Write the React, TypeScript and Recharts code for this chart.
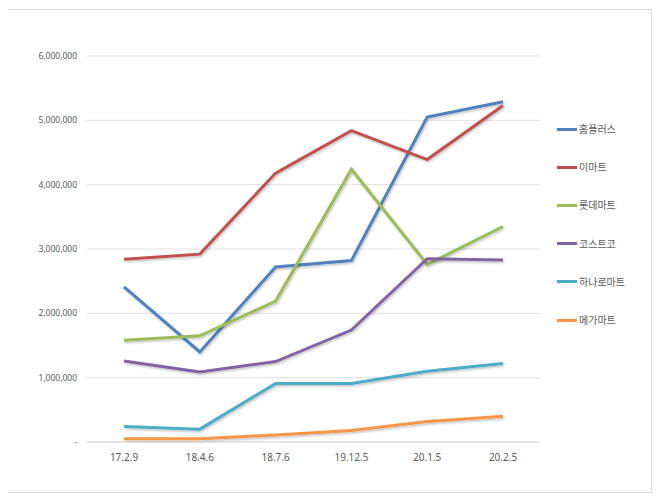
import React from 'react';
import { LineChart, Line, XAxis, YAxis, CartesianGrid } from 'recharts';

const categories = ['17.2.9', '18.4.6', '18.7.6', '19.12.5', '20.1.5', '20.2.5'];
const seriesNames = ['홈플러스', '이마트', '롯데마트', '코스트코', '하나로마트', '메가마트'];
const homeplus = [2410000, 1400000, 2720000, 2820000, 5050000, 5290000];
const emart = [2840000, 2920000, 4180000, 4840000, 4390000, 5230000];
const lotte = [1580000, 1650000, 2190000, 4240000, 2760000, 3350000];
const costco = [1260000, 1090000, 1250000, 1740000, 2850000, 2830000];
const hanaro = [240000, 200000, 910000, 910000, 1100000, 1220000];
const mega = [50000, 50000, 110000, 180000, 320000, 400000];
const yTicks = [0, 1000000, 2000000, 3000000, 4000000, 5000000, 6000000];
const colors = ['#4F81BD', '#C0504D', '#9BBB59', '#8064A2', '#4BACC6', '#F79646'];

const seriesValues = [homeplus, emart, lotte, costco, hanaro, mega];
const keys = ['s0', 's1', 's2', 's3', 's4', 's5'];

const data = categories.map((c, i) => {
  const row: any = { name: c };
  keys.forEach((k, j) => { row[k] = seriesValues[j][i]; });
  return row;
});

const fmt = (v: number) => (v === 0 ? '-' : v.toLocaleString('en-US'));

const LegendBox = () => (
  <div style={{ position: 'absolute', left: 549, top: 119, width: 90, height: 240 }}>
    {seriesNames.map((n, i) => (
      <div key={n} style={{ position: 'absolute', left: 0, top: i * 38.2 - 7, height: 14, display: 'flex', alignItems: 'center' }}>
        <div style={{ width: 20, height: 3, background: colors[i], marginRight: 2 }} />
        <span style={{ fontFamily: '"Noto Sans CJK KR", sans-serif', fontSize: 10, color: '#595959', whiteSpace: 'nowrap', lineHeight: '14px' }}>{n}</span>
      </div>
    ))}
  </div>
);

export default function App() {
  return (
    <div style={{ width: 645, height: 484, border: '1px solid #d9d9d9', boxSizing: 'border-box', marginLeft: -1, marginTop: 1, position: 'relative', background: '#fff' }}>
      <LineChart width={643} height={482} data={data} margin={{ top: 46, right: 111, bottom: 20, left: 0 }}>
        <defs>
          <filter id="shadow" x="-10%" y="-10%" width="120%" height="130%">
            <feDropShadow dx="1" dy="1.5" stdDeviation="1" floodColor="#000" floodOpacity="0.25" />
          </filter>
        </defs>
        <CartesianGrid vertical={false} stroke="#e0e0e0" />
        <XAxis
          dataKey="name"
          padding={{ left: 37, right: 37 }}
          axisLine={{ stroke: '#d9d9d9' }}
          tickLine={false}
          tickSize={0}
          tickMargin={12}
          height={30}
          interval={0}
          tick={{ fill: '#595959', fontSize: 10, fontFamily: '"Noto Sans", sans-serif' }}
        />
        <YAxis
          width={79}
          domain={[0, 6000000]}
          ticks={yTicks}
          tickFormatter={fmt}
          axisLine={false}
          tickLine={false}
          tickSize={0}
          tickMargin={10}
          interval={0}
          tick={{ fill: '#595959', fontSize: 8.5, fontFamily: '"Noto Sans", sans-serif' }}
        />
        {keys.map((k, i) => (
          <Line
            key={k}
            type="linear"
            dataKey={k}
            name={seriesNames[i]}
            stroke={colors[i]}
            strokeWidth={3}
            dot={false}
            activeDot={false}
            filter="url(#shadow)"
            isAnimationActive={false}
          />
        ))}
      </LineChart>
      <LegendBox />
    </div>
  );
}
